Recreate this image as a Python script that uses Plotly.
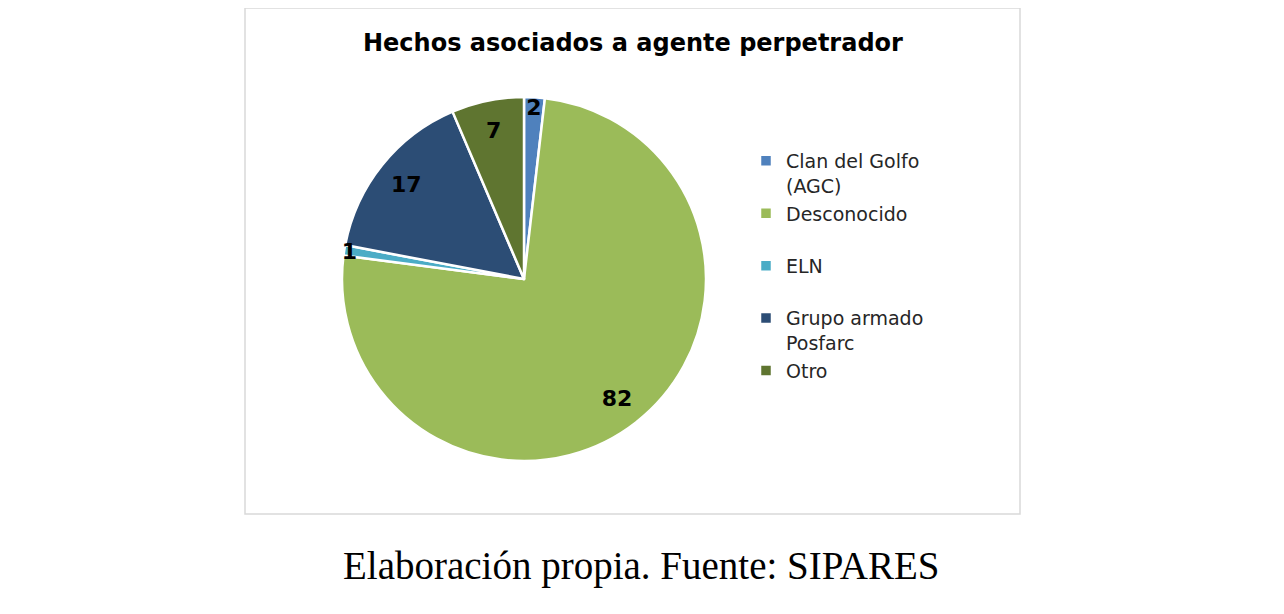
import plotly.graph_objects as go

categories = ["Clan del Golfo<br>(AGC)", "Desconocido<br>&nbsp;", "ELN<br>&nbsp;", "Grupo armado<br>Posfarc", "Otro"]
values = [2, 82, 1, 17, 7]
colors = ["#4F81BD", "#9BBB59", "#4BACC6", "#2C4D75", "#5F7530"]

W, H = 1284, 614
OFF = 8  # page offset of the plot
cx, cy, R = 524 - OFF, 279 - OFF, 182
dom = dict(x=[(cx - R) / W, (cx + R) / W], y=[1 - (cy + R) / H, 1 - (cy - R) / H])

fig = go.Figure()
fig.add_trace(go.Pie(
    labels=categories,
    values=values,
    sort=False,
    direction="clockwise",
    rotation=0,
    marker=dict(colors=colors, line=dict(color="white", width=2.5)),
    textinfo="none",
    domain=dom,
    hoverinfo="label+value",
))
# transparent ring carrying the data labels (placed like Excel, ~0.83R)
fig.add_trace(go.Pie(
    labels=categories,
    values=values,
    sort=False,
    direction="clockwise",
    rotation=0,
    hole=0.66,
    marker=dict(colors=["rgba(0,0,0,0)"] * len(values), line=dict(width=0)),
    texttemplate="%{value}",
    textposition="inside",
    insidetextorientation="horizontal",
    textfont=dict(family="DejaVu Sans", size=22, color="#000000", weight="bold"),
    domain=dom,
    showlegend=False,
    hoverinfo="skip",
))

fig.update_layout(
    width=W, height=H,
    margin=dict(l=0, r=0, t=0, b=0),
    paper_bgcolor="white",
    plot_bgcolor="white",
    uniformtext=dict(minsize=22, mode="show"),
    legend=dict(
        x=(746 - OFF) / W, y=1 - (142 - OFF) / H, xanchor="left", yanchor="top",
        font=dict(family="DejaVu Sans", size=19, color="#262626"),
        valign="top",
        itemwidth=30,
        tracegroupgap=0,
    ),
    shapes=[dict(type="rect", xref="paper", yref="paper",
                 x0=(245 - OFF) / W, x1=(1020 - OFF) / W, y0=1 - (514 - OFF) / H, y1=1 - (8 - OFF) / H,
                 line=dict(color="#D9D9D9", width=1.5), fillcolor="rgba(0,0,0,0)")],
    annotations=[
        dict(text="<b>Hechos asociados a agente perpetrador</b>", xref="paper", yref="paper",
             x=(633 - OFF) / W, y=1 - (43 - OFF) / H, xanchor="center", yanchor="middle", showarrow=False,
             font=dict(family="DejaVu Sans", size=24, color="#000000")),
        dict(text="Elaboración propia. Fuente: SIPARES", xref="paper", yref="paper",
             x=(641 - OFF) / W, y=1 - (566 - OFF) / H, xanchor="center", yanchor="middle", showarrow=False,
             font=dict(family="Liberation Serif", size=39, color="#000000")),
    ],
)

fig.write_html("out.html")
